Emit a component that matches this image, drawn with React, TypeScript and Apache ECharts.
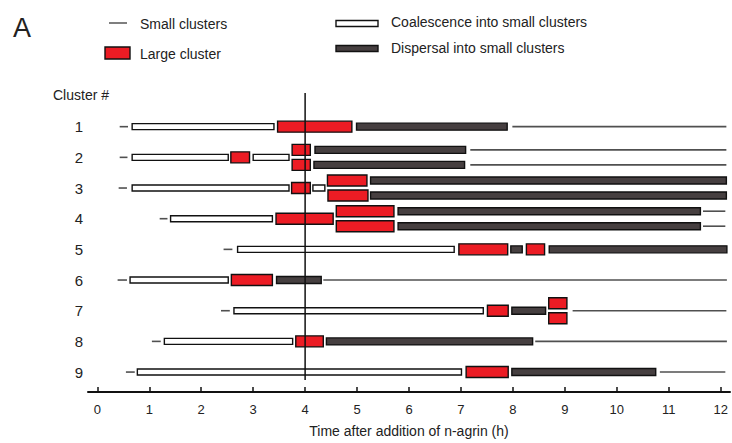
import React, { useEffect, useRef } from "react";
import * as echarts from "echarts";

// [row, lane (-1 upper branch, 0 main, 1 lower branch), start (h), end (h)]
const smallClusters: number[][] = [
  [1, 0, 0.43, 0.59], [1, 0, 7.99, 12.11],
  [2, 0, 0.43, 0.58], [2, -1, 7.18, 12.11], [2, 1, 7.18, 12.11],
  [3, 0, 0.41, 0.57],
  [4, 0, 1.2, 1.35], [4, -1, 11.66, 12.09], [4, 1, 11.66, 12.09],
  [5, 0, 2.43, 2.6],
  [6, 0, 0.39, 0.57], [6, 0, 4.35, 12.12],
  [7, 0, 2.38, 2.55], [7, 0, 9.15, 12.11],
  [8, 0, 1.05, 1.22], [8, 0, 8.43, 12.12],
  [9, 0, 0.55, 0.72], [9, 0, 10.83, 12.09],
];

const largeClusters: number[][] = [
  [1, 0, 3.47, 4.9],
  [2, 0, 2.57, 2.93], [2, -1, 3.75, 4.1], [2, 1, 3.75, 4.1],
  [3, 0, 3.74, 4.1], [3, -1, 4.43, 5.19], [3, 1, 4.44, 5.21],
  [4, 0, 3.44, 4.54], [4, -1, 4.6, 5.71], [4, 1, 4.6, 5.71],
  [5, 0, 6.96, 7.9], [5, 0, 8.26, 8.61],
  [6, 0, 2.58, 3.37],
  [7, 0, 7.51, 7.91], [7, -1, 8.69, 9.04], [7, 1, 8.69, 9.04],
  [8, 0, 3.82, 4.35],
  [9, 0, 7.1, 7.91],
];

const coalescence: number[][] = [
  [1, 0, 0.67, 3.4],
  [2, 0, 0.67, 2.52], [2, 0, 3.0, 3.69],
  [3, 0, 0.67, 3.69], [3, 0, 4.15, 4.38],
  [4, 0, 1.41, 3.37],
  [5, 0, 2.7, 6.87],
  [6, 0, 0.63, 2.52],
  [7, 0, 2.63, 7.43],
  [8, 0, 1.29, 3.76],
  [9, 0, 0.77, 7.01],
];

const dispersal: number[][] = [
  [1, 0, 4.99, 7.89],
  [2, -1, 4.19, 7.09], [2, 1, 4.17, 7.07],
  [3, -1, 5.26, 12.11], [3, 1, 5.26, 12.11],
  [4, -1, 5.79, 11.61], [4, 1, 5.79, 11.61],
  [5, 0, 7.96, 8.18], [5, 0, 8.7, 12.12],
  [6, 0, 3.45, 4.31],
  [7, 0, 7.98, 8.63],
  [8, 0, 4.41, 8.38],
  [9, 0, 7.98, 10.75],
];

const agrinTime = 4;
const xTicks = [0, 1, 2, 3, 4, 5, 6, 7, 8, 9, 10, 11, 12];
const clusterNumbers = [1, 2, 3, 4, 5, 6, 7, 8, 9];

const RED = "#ec1c24";
const DARK = "#463f40";
const LANE = 7.5;
const FONT = "'Liberation Sans', Arial, Helvetica, sans-serif";
const TEXT = "#222";

function rectSeries(name: string, data: number[][], h: number, fill: string, z: number) {
  return {
    type: "custom",
    name,
    data,
    z,
    encode: { x: [2, 3], y: 0 },
    clip: false,
    renderItem: (params: any, api: any) => {
      const row = api.value(0);
      const lane = api.value(1);
      const p0 = api.coord([api.value(2), row]);
      const p1 = api.coord([api.value(3), row]);
      const y = p0[1] + lane * LANE;
      return {
        type: "rect",
        shape: { x: p0[0], y: y - h / 2, width: p1[0] - p0[0], height: h },
        style: { fill, stroke: "#111", lineWidth: 1.4 },
      };
    },
  };
}

export default function App() {
  const ref = useRef<HTMLDivElement>(null);
  useEffect(() => {
    if (!ref.current) return;
    const chart = echarts.init(ref.current, undefined, { renderer: "svg" });
    chart.setOption({
      animation: false,
      backgroundColor: "#fff",
      textStyle: { fontFamily: FONT },
      grid: { left: 88, right: 2, top: 96, bottom: 48 },
      xAxis: {
        type: "value",
        position: "bottom",
        min: -0.18,
        max: 12.18,
        name: "Time after addition of n-agrin (h)",
        nameLocation: "middle",
        nameGap: 32,
        nameTextStyle: { fontSize: 14, color: TEXT, fontFamily: FONT },
        axisLine: { show: true, onZero: false, lineStyle: { color: "#111", width: 2 } },
        axisTick: { show: true, inside: true, length: 5, customValues: xTicks, lineStyle: { color: "#111", width: 1.5 } },
        axisLabel: { customValues: xTicks, fontSize: 13, color: TEXT, margin: 11, fontFamily: FONT },
        splitLine: { show: false },
      },
      yAxis: {
        type: "value",
        inverse: true,
        min: 0,
        max: 9.65,
        axisLine: { show: false, onZero: false },
        axisTick: { show: false },
        splitLine: { show: false },
        axisLabel: { customValues: clusterNumbers, fontSize: 15, color: TEXT, margin: 5, fontFamily: FONT },
      },
      graphic: [
        { type: "text", left: 13, top: 14, style: { text: "A", fontSize: 27, fill: TEXT, fontFamily: FONT } },
        { type: "line", shape: { x1: 109, y1: 23, x2: 127, y2: 23 }, style: { stroke: "#555", lineWidth: 1.5 } },
        { type: "text", x: 140, y: 24, style: { text: "Small clusters", fontSize: 14, fill: TEXT, fontFamily: FONT, verticalAlign: "middle" } },
        { type: "rect", shape: { x: 105, y: 47, width: 25, height: 12 }, style: { fill: RED, stroke: "#111", lineWidth: 1.4 } },
        { type: "text", x: 140, y: 54, style: { text: "Large cluster", fontSize: 14, fill: TEXT, fontFamily: FONT, verticalAlign: "middle" } },
        { type: "rect", shape: { x: 336, y: 20.5, width: 42, height: 6 }, style: { fill: "#fff", stroke: "#111", lineWidth: 1.4 } },
        { type: "text", x: 391, y: 22, style: { text: "Coalescence into small clusters", fontSize: 14, fill: TEXT, fontFamily: FONT, verticalAlign: "middle" } },
        { type: "rect", shape: { x: 336, y: 45.5, width: 42, height: 6 }, style: { fill: DARK, stroke: "#111", lineWidth: 1.4 } },
        { type: "text", x: 391, y: 48, style: { text: "Dispersal into small clusters", fontSize: 14, fill: TEXT, fontFamily: FONT, verticalAlign: "middle" } },
        { type: "text", x: 53, y: 95, style: { text: "Cluster #", fontSize: 14, fill: TEXT, fontFamily: FONT, verticalAlign: "middle" } },
      ],
      series: [
        {
          type: "custom",
          name: "Small clusters",
          data: smallClusters,
          z: 2,
          encode: { x: [2, 3], y: 0 },
          clip: false,
          renderItem: (params: any, api: any) => {
            const row = api.value(0);
            const lane = api.value(1);
            const p0 = api.coord([api.value(2), row]);
            const p1 = api.coord([api.value(3), row]);
            const y = p0[1] + lane * LANE;
            return {
              type: "line",
              shape: { x1: p0[0], y1: y, x2: p1[0], y2: y },
              style: { stroke: "#505050", lineWidth: 1.6 },
            };
          },
        },
        rectSeries("Coalescence into small clusters", coalescence, 6, "#ffffff", 3),
        rectSeries("Dispersal into small clusters", dispersal, 7, DARK, 3),
        rectSeries("Large cluster", largeClusters, 11, RED, 4),
        {
          type: "custom",
          name: "n-agrin",
          data: [[agrinTime, -0.1, 9.26]],
          z: 10,
          encode: { x: 0, y: [1, 2] },
          clip: false,
          renderItem: (params: any, api: any) => {
            const p0 = api.coord([api.value(0), api.value(1)]);
            const p1 = api.coord([api.value(0), api.value(2)]);
            return {
              type: "line",
              shape: { x1: p0[0], y1: p0[1], x2: p1[0], y2: p1[1] },
              style: { stroke: "#111", lineWidth: 1.5 },
            };
          },
        },
      ],
    });
    return () => chart.dispose();
  }, []);
  return (
    <div
      ref={ref}
      style={{ position: "absolute", left: 0, top: 0, width: 732, height: 443, background: "#fff" }}
    />
  );
}
